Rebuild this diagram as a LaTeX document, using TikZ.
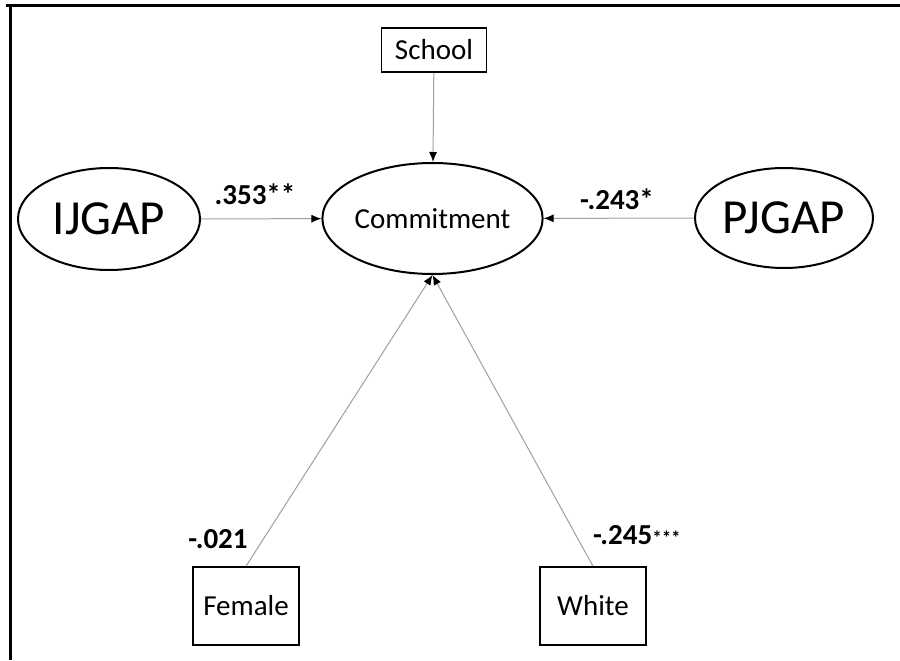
\documentclass[tikz,border=0pt]{standalone}
\usepackage{fontspec}
\setmainfont{Carlito}
\usepackage{xcolor}
\usetikzlibrary{arrows.meta,positioning,calc,shapes.geometric}

\begin{document}
\begin{tikzpicture}[x=0.5pt, y=0.5pt, font=\fontsize{14.5}{16}\selectfont]
  \tikzset{lat/.style={draw, ellipse, line width=1pt, inner sep=0pt},
    obs/.style={draw, rectangle, line width=0.8pt, inner sep=0pt},
    path/.style={draw=gray!75, line width=0.5pt, -{Latex[length=5pt,width=4pt,color=black]}},
    coef/.style={font=\fontsize{14.5}{16}\selectfont\bfseries}}
  \useasboundingbox (0,0) rectangle (900,660);
  % frame left over from the page
  \draw[line width=1.5pt] (6,654) -- (900,654);
  \draw[line width=1.5pt] (10.5,654) -- (10.5,0);
  % latent gaps and outcome
  \node[lat, minimum width=100.5pt, minimum height=55.5pt] (commit) at (432.5,441.5) {Commitment};
  \node[lat, minimum width=91pt, minimum height=51pt, font=\fontsize{24.5}{27}\selectfont] (ijgap) at (109,441) {IJGAP};
  \node[lat, minimum width=89pt, minimum height=50pt, font=\fontsize{24.5}{27}\selectfont] (pjgap) at (784,442) {PJGAP};
  % controls
  \node[obs, minimum width=52.5pt, minimum height=22pt] (school) at (434,610) {School};
  \node[obs, minimum width=53pt, minimum height=39pt] (female) at (246,54) {Female};
  \node[obs, minimum width=53pt, minimum height=39pt] (white) at (593,54) {White};
  \draw[path] (school) -- (commit);
  \draw[path] (ijgap) -- (commit);
  \draw[path] (pjgap) -- (commit);
  \draw[path] (female.north) -- (commit.south);
  \draw[path] (white.north) -- (commit.south);
  % estimates
  \node[coef] (c1) at (255,466) {.353**};
  \node[coef] (c2) at (617,461) {-.243*};
  \node[coef] (c3) at (218,121) {-.021};
  \node[coef, anchor=west] (c4) at (586,125) {-.245{\fontsize{9.5}{10}\selectfont***}};
\end{tikzpicture}
\end{document}
